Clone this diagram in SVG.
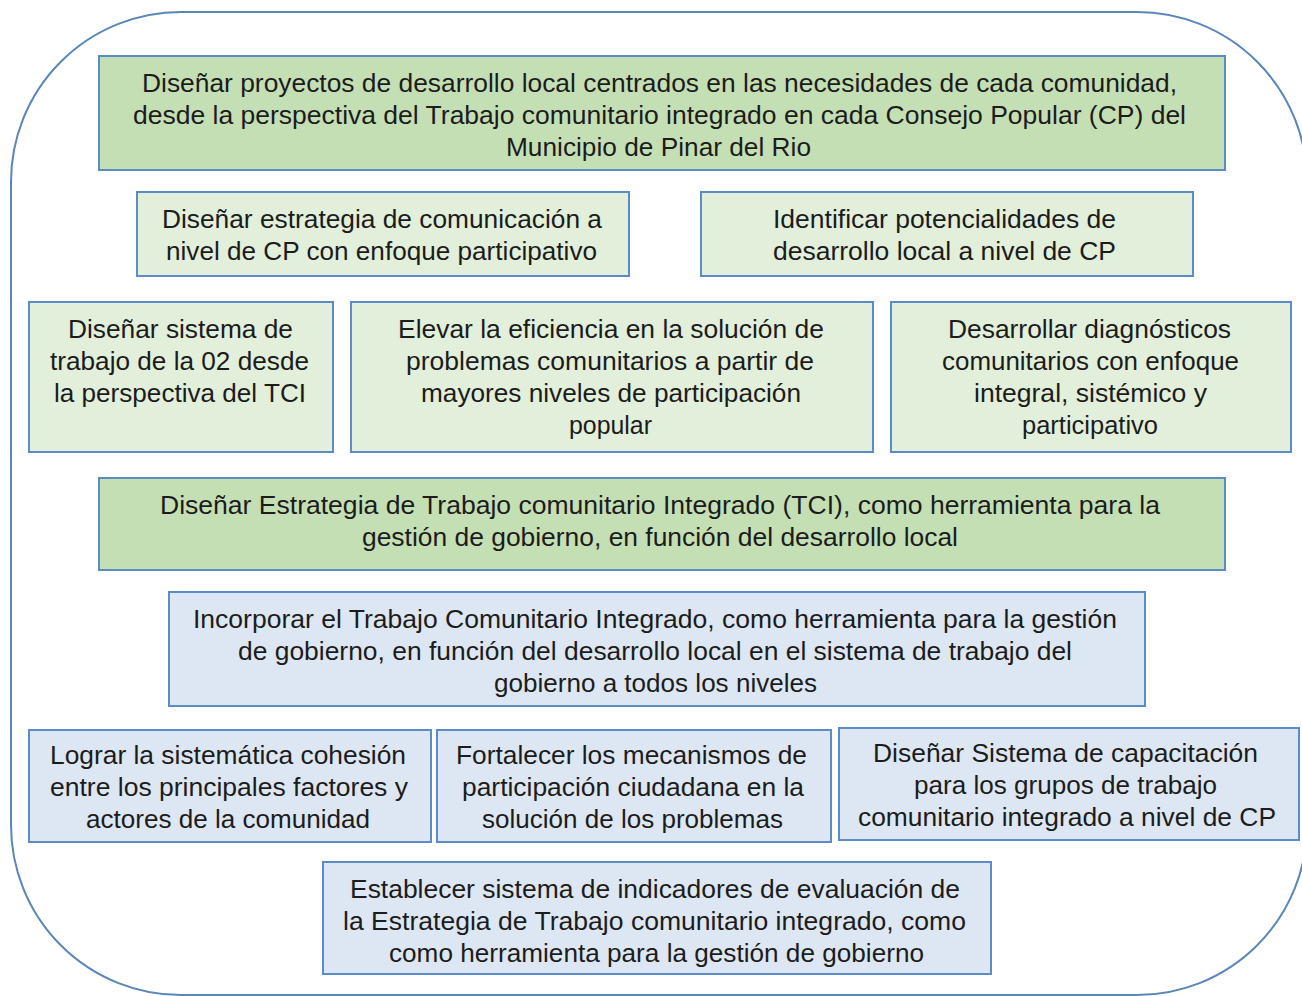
<svg xmlns="http://www.w3.org/2000/svg" width="1302" height="996" viewBox="0 0 1302 996">
<style>
.frame{fill:none;stroke:#5a86b8;stroke-width:2}
.box{stroke:#5b8cc5;stroke-width:2}
.dg{fill:#c5dfb5}
.lg{fill:#e2efda}
.lb{fill:#dce7f3}
text{font-family:"Liberation Sans",Arial,sans-serif;font-size:25px;fill:#1c1c1c;text-anchor:middle}
</style>
<rect class="frame" x="11" y="12" width="1296" height="983" rx="170" ry="170"/>
<g id="n1"><rect class="box dg" x="99" y="56" width="1126" height="114"/>
<text x="659.5" y="92" textLength="1035" lengthAdjust="spacingAndGlyphs">Diseñar proyectos de desarrollo local centrados en las necesidades de cada comunidad,</text>
<text x="659.5" y="124" textLength="1053" lengthAdjust="spacingAndGlyphs">desde la perspectiva del Trabajo comunitario integrado en cada Consejo Popular (CP) del</text>
<text x="658.5" y="156" textLength="305" lengthAdjust="spacingAndGlyphs">Municipio de Pinar del Rio</text></g>
<g id="n2"><rect class="box lg" x="137" y="192" width="492" height="84"/>
<text x="382" y="228" textLength="440" lengthAdjust="spacingAndGlyphs">Diseñar estrategia de comunicación a</text>
<text x="381.5" y="260" textLength="431" lengthAdjust="spacingAndGlyphs">nivel de CP con enfoque participativo</text></g>
<g id="n3"><rect class="box lg" x="701" y="192" width="492" height="84"/>
<text x="944.5" y="228" textLength="343" lengthAdjust="spacingAndGlyphs">Identificar potencialidades de</text>
<text x="944.5" y="260" textLength="343" lengthAdjust="spacingAndGlyphs">desarrollo local a nivel de CP</text></g>
<g id="n4"><rect class="box lg" x="29" y="302" width="304" height="150"/>
<text x="180.5" y="338" textLength="225" lengthAdjust="spacingAndGlyphs">Diseñar sistema de</text>
<text x="179.5" y="370" textLength="259" lengthAdjust="spacingAndGlyphs">trabajo de la 02 desde</text>
<text x="180" y="402" textLength="252" lengthAdjust="spacingAndGlyphs">la perspectiva del TCI</text></g>
<g id="n5"><rect class="box lg" x="351" y="302" width="522" height="150"/>
<text x="611" y="338" textLength="426" lengthAdjust="spacingAndGlyphs">Elevar la eficiencia en la solución de</text>
<text x="610" y="370" textLength="408" lengthAdjust="spacingAndGlyphs">problemas comunitarios a partir de</text>
<text x="611" y="402" textLength="380" lengthAdjust="spacingAndGlyphs">mayores niveles de participación</text>
<text x="610.5" y="434" textLength="83" lengthAdjust="spacingAndGlyphs">popular</text></g>
<g id="n6"><rect class="box lg" x="891" y="302" width="400" height="150"/>
<text x="1089.5" y="338" textLength="283" lengthAdjust="spacingAndGlyphs">Desarrollar diagnósticos</text>
<text x="1090.5" y="370" textLength="297" lengthAdjust="spacingAndGlyphs">comunitarios con enfoque</text>
<text x="1090.5" y="402" textLength="233" lengthAdjust="spacingAndGlyphs">integral, sistémico y</text>
<text x="1090" y="434" textLength="136" lengthAdjust="spacingAndGlyphs">participativo</text></g>
<g id="n7"><rect class="box dg" x="99" y="478" width="1126" height="92"/>
<text x="660" y="514" textLength="1000" lengthAdjust="spacingAndGlyphs">Diseñar Estrategia de Trabajo comunitario Integrado (TCI), como herramienta para la</text>
<text x="660" y="546" textLength="596" lengthAdjust="spacingAndGlyphs">gestión de gobierno, en función del desarrollo local</text></g>
<g id="n8"><rect class="box lb" x="169" y="592" width="976" height="114"/>
<text x="655" y="628" textLength="924" lengthAdjust="spacingAndGlyphs">Incorporar el Trabajo Comunitario Integrado, como herramienta para la gestión</text>
<text x="655" y="660" textLength="834" lengthAdjust="spacingAndGlyphs">de gobierno, en función del desarrollo local en el sistema de trabajo del</text>
<text x="655.5" y="692" textLength="323" lengthAdjust="spacingAndGlyphs">gobierno a todos los niveles</text></g>
<g id="n9"><rect class="box lb" x="29" y="730" width="402" height="112"/>
<text x="228" y="764" textLength="356" lengthAdjust="spacingAndGlyphs">Lograr la sistemática cohesión</text>
<text x="229" y="796" textLength="358" lengthAdjust="spacingAndGlyphs">entre los principales factores y</text>
<text x="228" y="828" textLength="284" lengthAdjust="spacingAndGlyphs">actores de la comunidad</text></g>
<g id="n10"><rect class="box lb" x="437" y="730" width="394" height="112"/>
<text x="631.5" y="764" textLength="351" lengthAdjust="spacingAndGlyphs">Fortalecer los mecanismos de</text>
<text x="633" y="796" textLength="342" lengthAdjust="spacingAndGlyphs">participación ciudadana en la</text>
<text x="632.5" y="828" textLength="301" lengthAdjust="spacingAndGlyphs">solución de los problemas</text></g>
<g id="n11"><rect class="box lb" x="839" y="728" width="460" height="112"/>
<text x="1065.5" y="762" textLength="385" lengthAdjust="spacingAndGlyphs">Diseñar Sistema de capacitación</text>
<text x="1065.5" y="794" textLength="303" lengthAdjust="spacingAndGlyphs">para los grupos de trabajo</text>
<text x="1067" y="826" textLength="418" lengthAdjust="spacingAndGlyphs">comunitario integrado a nivel de CP</text></g>
<g id="n12"><rect class="box lb" x="323" y="862" width="668" height="112"/>
<text x="655" y="898" textLength="610" lengthAdjust="spacingAndGlyphs">Establecer sistema de indicadores de evaluación de</text>
<text x="654.5" y="930" textLength="623" lengthAdjust="spacingAndGlyphs">la Estrategia de Trabajo comunitario integrado, como</text>
<text x="656.5" y="962" textLength="535" lengthAdjust="spacingAndGlyphs">como herramienta para la gestión de gobierno</text></g>
<g id="connectors"></g>
</svg>
